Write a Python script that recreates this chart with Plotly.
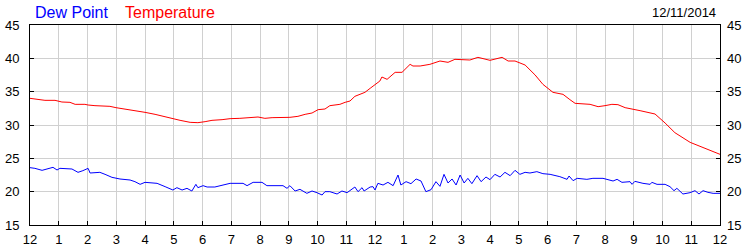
import plotly.graph_objects as go

# Time of day in hours (0 = 12 AM on 12/11/2014, 24 = next midnight)
temp_hours = [0.00, 0.35, 0.52, 0.87, 1.11, 1.39, 1.57, 1.91, 2.02, 2.26, 2.43, 2.78, 2.99, 3.30, 3.65,
              4.00, 4.35, 4.59, 4.87, 5.22, 5.57, 5.84, 6.09, 6.33, 6.68, 6.96, 7.30, 7.65, 7.93, 8.17,
              8.42, 9.04, 9.32, 9.57, 9.81, 10.02, 10.26, 10.43, 10.78, 10.96, 11.13, 11.30, 11.65, 11.83,
              12.00, 12.17, 12.24, 12.42, 12.70, 12.94, 13.22, 13.32, 13.57, 13.91, 14.26, 14.54, 14.78,
              15.30, 15.58, 16.00, 16.42, 16.63, 16.87, 17.22, 17.57, 17.84, 18.19, 18.54, 18.78, 18.96,
              19.48, 19.76, 20.00, 20.24, 20.45, 20.70, 21.22, 21.74, 22.09, 22.43, 22.96, 23.48, 24.00]
temp_values = [34.0, 33.85, 33.7, 33.7, 33.45, 33.4, 33.1, 33.1, 33.0, 32.9, 32.9, 32.8, 32.6, 32.4, 32.15,
               31.9, 31.6, 31.35, 31.0, 30.7, 30.4, 30.35, 30.5, 30.7, 30.8, 30.95, 31.0, 31.15, 31.2, 31.0,
               31.1, 31.15, 31.3, 31.6, 31.8, 32.3, 32.4, 32.9, 33.1, 33.4, 33.6, 34.3, 34.9, 35.5,
               36.0, 36.6, 37.2, 36.85, 37.9, 37.9, 39.1, 38.85, 38.85, 39.1, 39.6, 39.4, 39.85,
               39.75, 40.15, 39.7, 40.15, 39.6, 39.6, 39.0, 37.5, 36.1, 34.9, 34.6, 33.8, 33.25,
               33.1, 32.75, 32.9, 33.1, 33.05, 32.6, 32.15, 31.65, 30.3, 28.85, 27.4, 26.5, 25.6]

dew_hours = [0.00, 0.17, 0.42, 0.63, 0.80, 0.94, 1.04, 1.46, 1.67, 1.84, 2.02, 2.09, 2.43, 2.61, 2.85,
             3.13, 3.48, 3.65, 3.83, 4.00, 4.17, 4.42, 4.70, 4.97, 5.11, 5.29, 5.46, 5.63, 5.77, 5.84,
             6.02, 6.16, 6.43, 6.68, 6.96, 7.41, 7.55, 7.76, 8.07, 8.24, 8.59, 8.80, 8.94, 9.04, 9.22,
             9.39, 9.63, 9.81, 9.98, 10.16, 10.26, 10.43, 10.68, 10.85, 11.03, 11.30, 11.41, 11.55, 11.62,
             11.83, 11.93, 12.00, 12.10, 12.28, 12.45, 12.63, 12.80, 12.90, 13.08, 13.25, 13.43, 13.60,
             13.77, 13.95, 14.12, 14.26, 14.40, 14.54, 14.68, 14.82, 14.96, 15.10, 15.23, 15.37, 15.55,
             15.69, 15.86, 16.00, 16.17, 16.35, 16.52, 16.70, 16.87, 17.04, 17.22, 17.39, 17.63, 17.84,
             18.09, 18.43, 18.68, 18.75, 18.89, 19.03, 19.37, 19.58, 19.93, 20.17, 20.28, 20.42, 20.59,
             20.87, 20.94, 21.04, 21.32, 21.57, 21.63, 21.81, 22.09, 22.26, 22.40, 22.50, 22.71, 22.96,
             23.13, 23.27, 23.41, 23.58, 23.76, 24.00]
dew_values = [23.6, 23.5, 23.2, 23.4, 23.65, 23.25, 23.5, 23.4, 22.9, 23.15, 23.5, 22.8, 22.9, 22.6, 22.15,
              21.9, 21.75, 21.5, 21.1, 21.4, 21.35, 21.25, 20.75, 20.25, 20.6, 20.25, 20.5, 20.1, 21.1, 20.6,
              20.9, 20.7, 20.7, 21.0, 21.25, 21.25, 20.9, 21.4, 21.4, 20.9, 20.85, 20.9, 20.5, 20.9, 20.1,
              20.35, 19.75, 20.1, 19.85, 19.5, 20.0, 20.0, 19.65, 20.1, 19.85, 20.7, 20.0, 20.6, 20.1,
              20.7, 20.75, 20.25, 21.25, 21.0, 21.4, 20.9, 22.5, 21.0, 21.5, 21.2, 21.9, 21.6,
              20.0, 20.3, 21.5, 20.8, 22.6, 21.3, 21.9, 21.0, 22.5, 21.3, 22.0, 21.2, 22.4,
              21.5, 22.2, 21.8, 22.6, 22.2, 22.9, 22.4, 23.2, 22.6, 22.9, 22.8, 23.0, 22.7,
              22.6, 22.25, 21.85, 22.35, 21.65, 22.0, 21.85, 22.0, 22.0, 21.75, 21.6, 21.85, 21.4,
              21.5, 21.1, 21.55, 21.25, 21.1, 21.4, 21.1, 21.1, 20.75, 20.15, 20.5, 19.65, 19.85,
              20.15, 19.65, 20.15, 19.9, 19.75, 19.75]

tick_hours = list(range(0, 25))
tick_labels = ["12", "1", "2", "3", "4", "5", "6", "7", "8", "9", "10", "11",
               "12", "1", "2", "3", "4", "5", "6", "7", "8", "9", "10", "11", "12"]
y_ticks = [15, 20, 25, 30, 35, 40, 45]
date_label = "12/11/2014"

FONT = "Liberation Sans, Arial, sans-serif"

fig = go.Figure()
fig.add_trace(go.Scatter(x=temp_hours, y=temp_values, mode="lines",
                         line=dict(color="#ff0000", width=1), name="Temperature",
                         hoverinfo="skip"))
fig.add_trace(go.Scatter(x=dew_hours, y=dew_values, mode="lines",
                         line=dict(color="#0000ff", width=1), name="Dew Point",
                         hoverinfo="skip"))
# invisible trace to show the mirrored right axis
fig.add_trace(go.Scatter(x=[0], y=[15], yaxis="y2", mode="markers",
                         marker=dict(opacity=0), showlegend=False, hoverinfo="skip"))

axis_font = dict(family=FONT, size=13, color="#000000")

fig.update_layout(
    width=750, height=250,
    margin=dict(l=30, r=30, t=25, b=25, autoexpand=False),
    paper_bgcolor="white", plot_bgcolor="white",
    showlegend=False,
    xaxis=dict(range=[0, 24], tickmode="array", tickvals=tick_hours, ticktext=tick_labels,
               showgrid=True, gridcolor="#d0d0d0", gridwidth=1,
               showline=True, linecolor="black", linewidth=1, mirror=True,
               ticks="inside", ticklen=4, tickcolor="black", ticklabelstandoff=2,
               tickfont=axis_font, zeroline=False, fixedrange=True, automargin=False),
    yaxis=dict(range=[15, 45], tickmode="array", tickvals=y_ticks,
               showgrid=True, gridcolor="#d0d0d0", gridwidth=1,
               showline=True, linecolor="black", linewidth=1, mirror=True,
               ticks="inside", ticklen=4, tickcolor="black", ticklabelstandoff=7,
               tickfont=axis_font, zeroline=False, fixedrange=True, automargin=False),
    yaxis2=dict(range=[15, 45], tickmode="array", tickvals=y_ticks, overlaying="y", side="right",
                showgrid=False, showline=False,
                ticks="inside", ticklen=4, tickcolor="black", ticklabelstandoff=6,
                tickfont=axis_font, zeroline=False, fixedrange=True, automargin=False),
    annotations=[
        dict(text="Dew Point", x=33, y=13, xref="paper", yref="paper", showarrow=False,
             font=dict(family=FONT, size=16, color="#0000ff"), xanchor="left", yanchor="middle"),
        dict(text="Temperature", x=123, y=13, xref="paper", yref="paper", showarrow=False,
             font=dict(family=FONT, size=16, color="#ff0000"), xanchor="left", yanchor="middle"),
        dict(text=date_label, x=718, y=12, xref="paper", yref="paper", showarrow=False,
             font=dict(family=FONT, size=13, color="#000000"), xanchor="right", yanchor="middle"),
    ],
)

# convert pixel positions of the header texts into paper coordinates
plot_w = 750 - 30 - 30
plot_h = 250 - 25 - 25
for ann in fig.layout.annotations:
    ann.x = (ann.x - 30) / plot_w
    ann.y = (225 - ann.y) / plot_h

fig.write_html("out.html", config={"displayModeBar": False})
